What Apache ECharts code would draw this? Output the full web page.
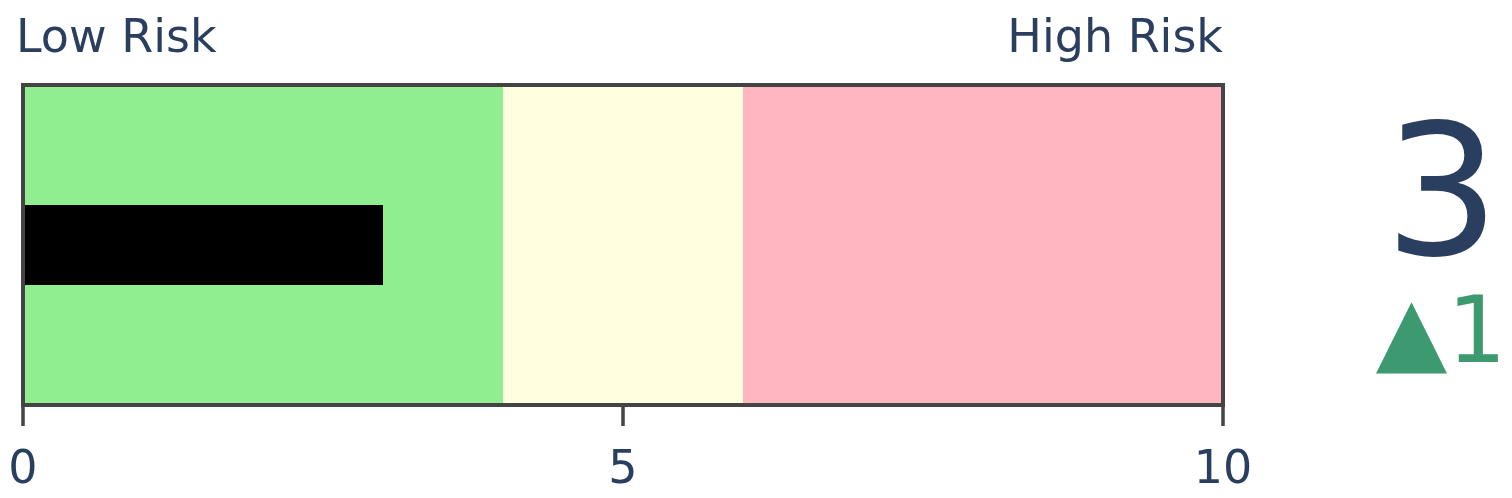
<!DOCTYPE html>
<html>
<head>
<meta charset="utf-8">
<script src="https://cdn.jsdelivr.net/npm/echarts@6/dist/echarts.min.js"></script>
<style>
  html, body { margin: 0; padding: 0; background: #fff; }
  #chart { width: 1512px; height: 498px; }
</style>
</head>
<body>
<div id="chart"></div>
<script>
const chart = echarts.init(document.getElementById("chart"));

// dados
const bandStarts = [0, 4, 6];
const bandEnds = [4, 6, 10];
const bandColors = ["#90EE90", "#FFFFE0", "#FFB6C1"];
const currentValue = [3];
const deltaValue = 1;
const axisMin = 0;
const axisMax = 10;
const tickStep = 5;
const leftLabel = "Low Risk";
const rightLabel = "High Risk";

const textColor = "#2a3f5f";
const frameColor = "#444";
const font = "DejaVu Sans";

const gridBox = { left: 23, top: 85, width: 1200, height: 320 };

const options = {
  animation: false,
  grid: gridBox,
  xAxis: {
    type: "value",
    min: axisMin,
    max: axisMax,
    interval: tickStep,
    position: "bottom",
    z: 10,
    splitLine: { show: false },
    axisLine: { show: false },
    axisTick: { show: true, length: 21, lineStyle: { color: frameColor, width: 3.5 } },
    axisLabel: { color: textColor, fontSize: 46, fontFamily: font, margin: 43 },
  },
  yAxis: {
    type: "category",
    data: ["risk"],
    axisLine: { show: false },
    axisTick: { show: false },
    axisLabel: { show: false },
  },
  series: [
    {
      type: "bar",
      data: currentValue,
      barWidth: 80,
      itemStyle: { color: "#000" },
      markArea: {
        silent: true,
        data: bandStarts.map((s, i) => {
          return [
            { xAxis: s, itemStyle: { color: bandColors[i], opacity: 1 } },
            { xAxis: bandEnds[i] },
          ];
        }),
      },
    },
  ],
  graphic: [
    {
      type: "rect",
      x: gridBox.left,
      y: gridBox.top,
      z: 100,
      silent: true,
      shape: { x: 0, y: 0, width: gridBox.width, height: gridBox.height },
      style: { fill: null, stroke: frameColor, lineWidth: 4 },
    },
    {
      type: "text",
      left: 16,
      top: 17,
      style: { text: leftLabel, fill: textColor, fontSize: 46, fontFamily: font },
    },
    {
      type: "text",
      right: 289,
      top: 17,
      style: { text: rightLabel, fill: textColor, fontSize: 46, fontFamily: font },
    },
    {
      type: "text",
      x: 1442,
      y: 297,
      style: {
        text: String(currentValue[0]),
        fill: textColor,
        fontSize: 181,
        fontFamily: font,
        align: "center",
        verticalAlign: "bottom",
      },
    },
    {
      type: "text",
      x: 1441,
      y: 384,
      style: {
        text: (deltaValue >= 0 ? "▲" : "▼") + Math.abs(deltaValue),
        fill: "#3D9970",
        fontSize: 93,
        fontFamily: font,
        align: "center",
        verticalAlign: "bottom",
      },
    },
  ],
};

chart.setOption(options);
</script>
</body>
</html>
